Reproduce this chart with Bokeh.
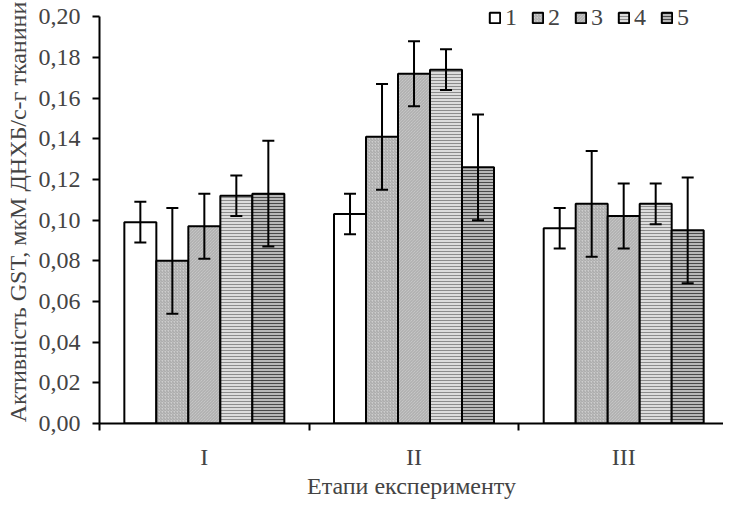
from bokeh.plotting import figure
from bokeh.models import Range1d, FixedTicker, Legend, LegendItem, ColumnDataSource
from bokeh.embed import file_html
from bokeh.resources import INLINE

categories = ["I", "II", "III"]
series_names = ["1", "2", "3", "4", "5"]
values = {
    "1": [0.099, 0.103, 0.096],
    "2": [0.080, 0.141, 0.108],
    "3": [0.097, 0.172, 0.102],
    "4": [0.112, 0.174, 0.108],
    "5": [0.113, 0.126, 0.095],
}
errors = {
    "1": [0.010, 0.010, 0.010],
    "2": [0.026, 0.026, 0.026],
    "3": [0.016, 0.016, 0.016],
    "4": [0.010, 0.010, 0.010],
    "5": [0.026, 0.026, 0.026],
}
y_ticks = [0.0, 0.02, 0.04, 0.06, 0.08, 0.10, 0.12, 0.14, 0.16, 0.18, 0.20]
y_tick_labels = ["0,00", "0,02", "0,04", "0,06", "0,08", "0,10", "0,12", "0,14", "0,16", "0,18", "0,20"]
x_title = "Етапи експерименту"
y_title = "Активність GST, мкМ ДНХБ/с-г тканини"

styles = {
    "1": dict(fill_color="white", hatch_pattern=None),
    "2": dict(fill_color="#cdcdcd", hatch_pattern="right_diagonal_line", hatch_color="#a5a5a5", hatch_scale=3, hatch_weight=1),
    "3": dict(fill_color="#d2d2d2", hatch_pattern="left_diagonal_line", hatch_color="#a8a8a8", hatch_scale=3, hatch_weight=1),
    "4": dict(fill_color="#dcdcdc", hatch_pattern="horizontal_line", hatch_color="#8c8c8c", hatch_scale=3, hatch_weight=1),
    "5": dict(fill_color="#b8b8b8", hatch_pattern="horizontal_line", hatch_color="#4a4a4a", hatch_scale=3, hatch_weight=1),
}

FONT = "Liberation Serif"
FS = "24px"
bw = 0.1526

p = figure(width=723, height=501, output_backend="svg", toolbar_location=None,
           x_range=Range1d(0, 2.976), y_range=Range1d(0, 0.208),
           min_border_left=99, min_border_top=0, min_border_right=0, min_border_bottom=0)
p.outline_line_color = None
p.xgrid.visible = False
p.ygrid.visible = False
p.background_fill_color = "white"

items = []
for i, s in enumerate(series_names):
    xs = [g + 0.5 + (i - 2) * bw for g in range(len(categories))]
    vals = values[s]
    errs = errors[s]
    src = ColumnDataSource(dict(x=xs, top=vals,
                                lo=[v - e for v, e in zip(vals, errs)],
                                hi=[v + e for v, e in zip(vals, errs)]))
    st = dict(styles[s])
    r = p.vbar(x="x", top="top", width=bw, source=src, line_color="black", line_width=2, **st)
    items.append(LegendItem(label=s, renderers=[r]))
    p.segment(x0="x", y0="lo", x1="x", y1="hi", source=src, line_color="black", line_width=2)
    p.dash(x="x", y="lo", size=12, source=src, line_color="black", line_width=2)
    p.dash(x="x", y="hi", size=12, source=src, line_color="black", line_width=2)

legend = Legend(items=items, orientation="horizontal", location=(389, 392),
                background_fill_alpha=0, border_line_color=None, padding=0, margin=0,
                spacing=14, glyph_width=13, glyph_height=13, label_standoff=4,
                label_width=12, label_height=13,
                label_text_font=FONT, label_text_font_size=FS)
p.add_layout(legend, "center")

# x axis
xa = p.xaxis[0]
xa.ticker = FixedTicker(ticks=[0.5, 1.5, 2.5], minor_ticks=[0, 1, 2, 3])
xa.major_label_overrides = {0.5: categories[0], 1.5: categories[1], 2.5: categories[2]}
xa.major_tick_out = 0
xa.major_tick_in = 0
xa.minor_tick_out = 7
xa.minor_tick_in = 0
xa.minor_tick_line_width = 2
xa.axis_line_width = 2
xa.major_label_standoff = 13
xa.major_label_text_font = FONT
xa.major_label_text_font_size = FS
xa.axis_label = x_title
xa.axis_label_text_font = FONT
xa.axis_label_text_font_size = FS
xa.axis_label_text_font_style = "normal"
xa.axis_label_standoff = 0

# y axis
ya = p.yaxis[0]
ya.bounds = (0, 0.2)
ya.ticker = FixedTicker(ticks=y_ticks, minor_ticks=[])
ya.major_label_overrides = {t: l for t, l in zip(y_ticks, y_tick_labels)}
ya.major_tick_out = 7
ya.major_tick_in = 0
ya.major_tick_line_width = 2
ya.axis_line_width = 2
ya.major_label_standoff = 12
ya.major_label_text_font = FONT
ya.major_label_text_font_size = FS
ya.axis_label = y_title
ya.axis_label_text_font = FONT
ya.axis_label_text_font_size = FS
ya.axis_label_text_font_style = "normal"
ya.axis_label_standoff = 5

open("out.html", "w").write(file_html(p, INLINE))
